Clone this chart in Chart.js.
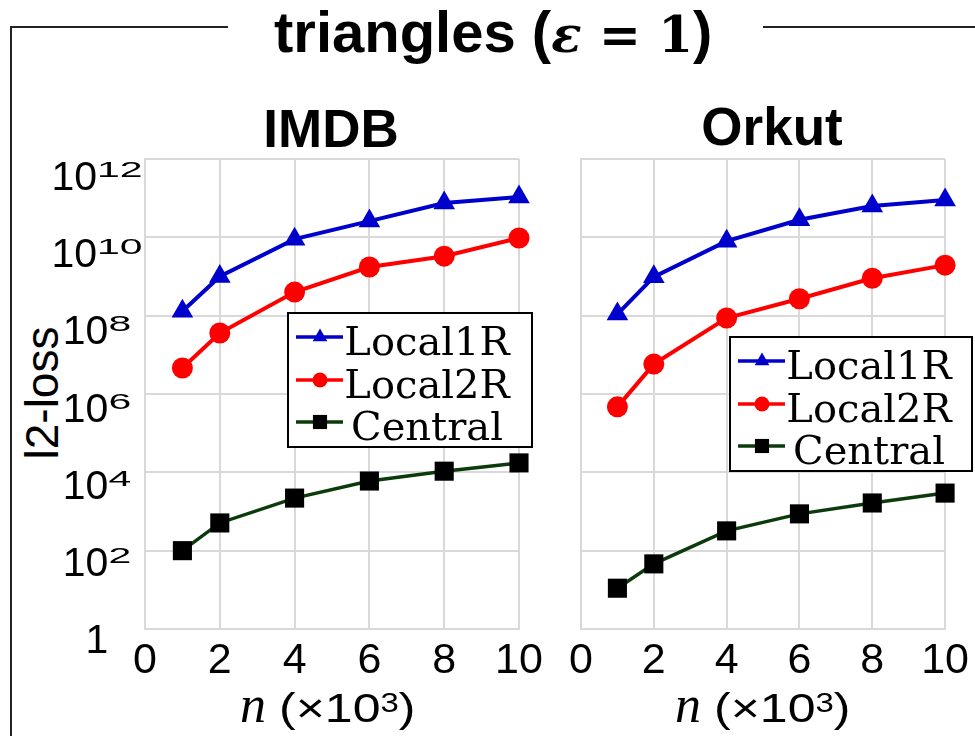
<!DOCTYPE html>
<html>
<head>
<meta charset="utf-8">
<script src="https://cdn.jsdelivr.net/npm/chart.js@4.4.1/dist/chart.umd.min.js"></script>
<style>
  body { margin: 0; background: #fff; }
  #page { position: relative; width: 975px; height: 736px; overflow: hidden; font-family: "Liberation Sans", Arial, sans-serif; color: #000; }
  .abs { position: absolute; white-space: nowrap; line-height: 1; }
  .frame { position: absolute; background: #222; }
  .box { position: absolute; }
  .m { font-family: "DejaVu Serif", serif; font-size: 50px; }
  .xt { font-size: 41px; }
  .xt .n { font-family: "Liberation Serif", serif; font-style: italic; font-size: 52px; }
  .xt .p { display: inline-block; margin-left: 13px; transform: scaleX(1.22); transform-origin: 0 50%; }
  .xt sup { font-size: 27px; vertical-align: 10px; line-height: 0; }
</style>
</head>
<body>
<div id="page">
  <!-- frame round the figure -->
  <div class="frame" style="left:10px;top:26px;width:2px;height:710px"></div>
  <div class="frame" style="left:10px;top:26px;width:218px;height:2px"></div>
  <div class="frame" style="left:763px;top:26px;width:212px;height:2px"></div>

  <div class="abs" style="left:274px;top:3px;font-size:58px;font-weight:bold">triangles (<span class="m"><i>ε</i> = 1</span>)</div>
  <div class="abs" style="left:181px;top:102px;width:300px;text-align:center;font-size:53px;font-weight:bold">IMDB</div>
  <div class="abs" style="left:622px;top:100px;width:300px;text-align:center;font-size:53px;font-weight:bold">Orkut</div>
  <div class="abs" style="left:-58px;top:370px;width:200px;text-align:center;font-size:46px;transform:rotate(-90deg)">l2-loss</div>

  <div class="box" style="left:0;top:100px"><canvas id="imdb" width="560" height="636"></canvas></div>
  <div class="box" style="left:560px;top:100px"><canvas id="orkut" width="415" height="636"></canvas></div>

  <div class="abs xt" style="left:240px;top:679px"><span class="n">n</span><span class="p">(×10<sup>3</sup>)</span></div>
  <div class="abs xt" style="left:675px;top:679px"><span class="n">n</span><span class="p">(×10<sup>3</sup>)</span></div>
</div>

<script>
// data
const nValues = [1, 2, 4, 6, 8, 10];
const seriesNames = ['Local1R', 'Local2R', 'Central'];

const imdbLocal1R = [1.3e8, 1.0e9, 9e9, 2.6e10, 7.5e10, 1.07e11];
const imdbLocal2R = [4.6e6, 3.6e7, 4e8, 1.75e9, 3.3e9, 9.6e9];
const imdbCentral = [100, 510, 2200, 6000, 10700, 17400];

const orkutLocal1R = [1.1e8, 9.8e8, 8e9, 2.8e10, 6.3e10, 9e10];
const orkutLocal2R = [4.7e5, 5.8e6, 8.7e7, 2.7e8, 9e8, 1.95e9];
const orkutCentral = [11, 46, 320, 870, 1650, 2950];

const xTicks = [0, 2, 4, 6, 8, 10];
const yTickExps = [0, 2, 4, 6, 8, 10, 12];

// styles for the three series
const styles = [
  { line: '#0000cc', point: '#0000cc', shape: 'triangle', r: 12.5, lr: 8.5, w: 4 },
  { line: '#ff0000', point: '#ff0000', shape: 'circle', r: 10.5, lr: 7.5, w: 4 },
  { line: '#0b3b0b', point: '#000000', shape: 'rect', r: 13.5, lr: 10, w: 3.5 }
];

function makeDatasets(lists) {
  return lists.map((vals, i) => ({
    label: seriesNames[i],
    data: nValues.map((n, j) => ({ x: n, y: vals[j] })),
    borderColor: styles[i].line,
    backgroundColor: styles[i].point,
    pointBackgroundColor: styles[i].point,
    pointBorderColor: styles[i].point,
    pointStyle: styles[i].shape,
    pointRadius: styles[i].r,
    pointHoverRadius: styles[i].r,
    pointBorderWidth: 0,
    borderWidth: styles[i].w,
    tension: 0,
    clip: false
  }));
}

// tick labels of the y axis, with raised exponent
const yLabels = {
  id: 'yLabels',
  afterDraw(chart) {
    const ctx = chart.ctx;
    const s = chart.scales.y;
    ctx.save();
    ctx.fillStyle = '#000';
    ctx.font = '41px "Liberation Sans"';
    ctx.textAlign = 'left';
    ctx.textBaseline = 'alphabetic';
    yTickExps.forEach(e => {
      const base = s.getPixelForValue(Math.pow(10, e)) + 24 + 0.6 * e;
      const main = e === 0 ? '1' : '10';
      const sup = e === 0 ? '' : String(e);
      const wm = ctx.measureText(main).width;
      const ws = ctx.measureText(sup).width;
      const x0 = 97 - (wm + ws) / 2;
      ctx.fillText(main, x0, base);
      if (sup) {
        ctx.save();
        ctx.translate(x0 + wm, base - 13);
        ctx.scale(1, 0.56);
        ctx.fillText(sup, 0, 0);
        ctx.restore();
      }
    });
    ctx.restore();
  }
};

// boxed legend inside the plot
const boxLegend = {
  id: 'boxLegend',
  afterDraw(chart, args, opts) {
    const ctx = chart.ctx;
    const x = opts.x, y = opts.y, w = opts.w, h = opts.h;
    ctx.save();
    ctx.fillStyle = '#fff';
    ctx.fillRect(x, y, w, h);
    ctx.strokeStyle = '#000';
    ctx.lineWidth = 2;
    ctx.strokeRect(x, y, w, h);
    const rows = [24, 67, 109];
    chart.data.datasets.forEach((ds, i) => {
      const ry = y + rows[i];
      ctx.strokeStyle = ds.borderColor;
      ctx.lineWidth = 3.5;
      ctx.beginPath();
      ctx.moveTo(x + 8, ry);
      ctx.lineTo(x + 55, ry);
      ctx.stroke();
      ctx.fillStyle = ds.pointBackgroundColor;
      ctx.strokeStyle = ds.pointBackgroundColor;
      Chart.helpers.drawPoint(ctx, { pointStyle: ds.pointStyle, radius: styles[i].lr, rotation: 0, borderWidth: 0 }, x + 32, ry);
      ctx.fillStyle = '#000';
      ctx.font = '40px "DejaVu Serif"';
      ctx.textAlign = 'center';
      ctx.textBaseline = 'alphabetic';
      ctx.fillText(ds.label, x + 139, ry + 18);
    });
    ctx.restore();
  }
};

function makeChart(id, lists, padding, legendBox, withYLabels) {
  return new Chart(document.getElementById(id), {
    type: 'line',
    data: { datasets: makeDatasets(lists) },
    options: {
      responsive: false,
      animation: false,
      devicePixelRatio: 1,
      layout: { padding: padding },
      plugins: {
        legend: { display: false },
        tooltip: { enabled: false },
        boxLegend: legendBox
      },
      scales: {
        x: {
          type: 'linear',
          min: 0,
          max: 10,
          afterBuildTicks: axis => { axis.ticks = xTicks.map(v => ({ value: v })); },
          afterFit: axis => { axis.height = 107; },
          grid: { color: '#d9d9d9', lineWidth: 2, drawTicks: false },
          border: { color: '#d9d9d9', width: 2 },
          ticks: { color: '#000', font: { family: 'Liberation Sans', size: 43 }, padding: 6, maxRotation: 0, autoSkip: false }
        },
        y: {
          type: 'logarithmic',
          min: 1,
          max: 1e12,
          afterBuildTicks: axis => { axis.ticks = yTickExps.map(e => ({ value: Math.pow(10, e) })); },
          afterFit: axis => { axis.width = 0; },
          grid: { color: '#d9d9d9', lineWidth: 2, drawTicks: false },
          border: { color: '#d9d9d9', width: 2 },
          ticks: { display: false }
        }
      }
    },
    plugins: withYLabels ? [boxLegend, yLabels] : [boxLegend]
  });
}

makeChart('imdb', [imdbLocal1R, imdbLocal2R, imdbCentral],
  { left: 145, top: 59, right: 41, bottom: 0 },
  { x: 288, y: 213, w: 244, h: 134 }, true);

makeChart('orkut', [orkutLocal1R, orkutLocal2R, orkutCentral],
  { left: 21, top: 59, right: 26, bottom: 0 },
  { x: 170, y: 237, w: 242, h: 134 }, false);
</script>
</body>
</html>
